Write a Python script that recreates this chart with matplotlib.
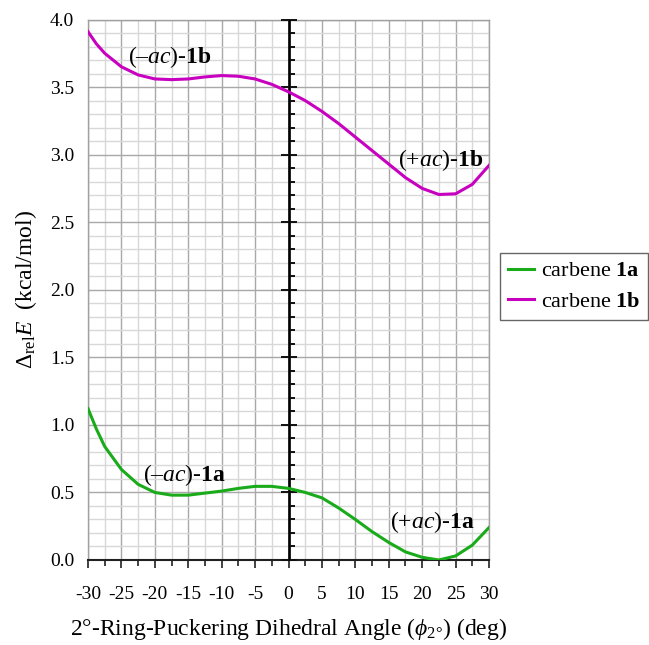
import matplotlib
matplotlib.use("Agg")
import matplotlib.pyplot as plt
from matplotlib.ticker import MultipleLocator, NullFormatter, FormatStrFormatter
from matplotlib.lines import Line2D

plt.rcParams['font.family'] = ['Liberation Serif', 'DejaVu Serif']
plt.rcParams['mathtext.fontset'] = 'custom'
plt.rcParams['mathtext.rm'] = 'Liberation Serif'
plt.rcParams['mathtext.it'] = 'Liberation Serif:italic'
plt.rcParams['mathtext.bf'] = 'Liberation Serif:bold'

angle = [-30, -28.75, -27.5, -25, -22.5, -20, -17.5, -15, -12.5, -10, -7.5, -5, -2.5,
         0, 2.5, 5, 7.5, 10, 12.5, 15, 17.5, 20, 22.5, 25, 27.5, 30]
carbene_1a = [1.12, 0.97, 0.84, 0.67, 0.56, 0.50, 0.48, 0.48, 0.495, 0.51, 0.53, 0.545, 0.545,
              0.53, 0.50, 0.46, 0.385, 0.30, 0.21, 0.13, 0.06, 0.02, 0.00, 0.03, 0.11, 0.24]
carbene_1b = [3.91, 3.82, 3.75, 3.65, 3.59, 3.56, 3.555, 3.56, 3.575, 3.585, 3.58, 3.56, 3.52,
              3.465, 3.40, 3.32, 3.23, 3.13, 3.03, 2.93, 2.83, 2.75, 2.705, 2.71, 2.78, 2.92]
series_names = ["carbene $\\mathbf{1a}$", "carbene $\\mathbf{1b}$"]
series_colors = ["#1aab1a", "#c800c0"]

labels = [("(–$\\mathit{ac}$)-$\\mathbf{1b}$", -17.8, 3.72),
          ("(+$\\mathit{ac}$)-$\\mathbf{1b}$", 22.7, 2.96),
          ("(–$\\mathit{ac}$)-$\\mathbf{1a}$", -15.6, 0.63),
          ("(+$\\mathit{ac}$)-$\\mathbf{1a}$", 21.5, 0.28)]

fig = plt.figure(figsize=(6.49, 6.45), dpi=100)
ax = fig.add_axes([88/649, 1-560/645, (489-88)/649, (560-19.5)/645])

ax.set_xlim(-30, 30)
ax.set_ylim(0, 4.0)
ax.xaxis.set_major_locator(MultipleLocator(5))
ax.xaxis.set_minor_locator(MultipleLocator(2.5))
ax.yaxis.set_major_locator(MultipleLocator(0.5))
ax.yaxis.set_minor_locator(MultipleLocator(0.1))
ax.grid(which='major', color='#a8a8a8', linewidth=1.0)
ax.grid(which='minor', color='#d8d8d8', linewidth=1.0)
ax.set_axisbelow(True)

for s in ['top', 'right', 'left']:
    ax.spines[s].set_color('#a0a0a0')
    ax.spines[s].set_linewidth(1.0)
ax.spines['bottom'].set_color('#202020')
ax.spines['bottom'].set_linewidth(1.5)
ax.spines['bottom'].set_zorder(4)

ax.tick_params(axis='x', which='major', direction='out', length=6, width=1.2,
               color='#202020', pad=13, labelsize=14)
ax.tick_params(axis='x', which='minor', direction='out', length=4, width=1.2,
               color='#202020')
ax.tick_params(axis='y', which='both', length=0, pad=10, labelsize=14)
ax.yaxis.set_major_formatter(FormatStrFormatter('%.1f'))
ax.xaxis.set_major_formatter(FormatStrFormatter('%d'))

# central vertical axis at x = 0
ax.axvline(0, color='#101010', linewidth=2.0, zorder=3)
sec = ax.secondary_yaxis(0.5)
sec.set_zorder(4)
sec.spines['left'].set_color('#101010')
sec.spines['left'].set_linewidth(2.0)
sec.yaxis.set_major_locator(MultipleLocator(0.5))
sec.yaxis.set_minor_locator(MultipleLocator(0.1))
sec.yaxis.set_major_formatter(NullFormatter())
sec.yaxis.set_minor_formatter(NullFormatter())
sec.tick_params(which='major', direction='inout', length=12, width=1.4, color='#101010')
sec.tick_params(which='minor', direction='out', length=4, width=1.4, color='#101010')

ax.plot(angle, carbene_1a, color=series_colors[0], linewidth=2.2, zorder=5)
ax.plot(angle, carbene_1b, color=series_colors[1], linewidth=2.2, zorder=5)

for txt, x, y in labels:
    ax.text(x, y, txt, fontsize=17, ha='center', va='center', zorder=6)

ax.set_ylabel("$\\mathit{\\Delta}_{\\mathrm{rel}}\\mathit{E}$  (kcal/mol)", fontsize=17, labelpad=8)
ax.set_xlabel("2°-Ring-Puckering Dihedral Angle ($\\phi_{2°}$) (deg)", fontsize=17, labelpad=9)

handles = [Line2D([0], [0], color=c, linewidth=2.2) for c in series_colors]
leg = fig.legend(handles, series_names, loc='upper left', bbox_to_anchor=(500/649, 1-253/645),
                 fontsize=16, frameon=True, fancybox=False, edgecolor='#404040',
                 handlelength=1.2, handletextpad=0.3, borderpad=0.35, labelspacing=0.45,
                 borderaxespad=0)
leg.get_frame().set_linewidth(1.0)

fig.savefig("out.png", dpi=100)
